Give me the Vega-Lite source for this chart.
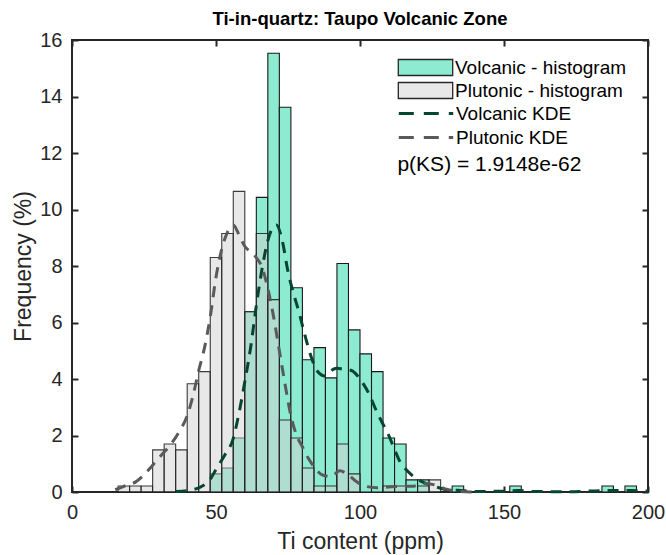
{
  "$schema": "https://vega.github.io/schema/vega-lite/v6.json",
  "width": 576,
  "height": 452,
  "autosize": "none",
  "padding": {"left": 72, "top": 40, "right": 18, "bottom": 63},
  "background": "white",
  "title": {"text": "Ti-in-quartz: Taupo Volcanic Zone", "fontSize": 18.5, "fontWeight": "bold", "font": "Liberation Sans", "color": "#000000", "offset": 2, "anchor": "middle"},
  "config": {
    "view": {"stroke": "#262626", "strokeWidth": 2},
    "font": "Liberation Sans",
    "axis": {"grid": false, "domain": false, "labelFlush": false, "labelOverlap": false, "tickColor": "#262626", "tickWidth": 2, "tickSize": -6, "labelColor": "#262626", "labelFontSize": 20, "titleColor": "#262626", "titleFontSize": 23, "titleFontWeight": "normal", "labelFont": "Liberation Sans", "titleFont": "Liberation Sans"}
  },
  "datasets": {
    "hist": [
      {"series": "Volcanic - histogram", "lo": 48, "hi": 52, "pct": 0.64},
      {"series": "Volcanic - histogram", "lo": 52, "hi": 56, "pct": 0.85},
      {"series": "Volcanic - histogram", "lo": 56, "hi": 60, "pct": 1.91},
      {"series": "Volcanic - histogram", "lo": 60, "hi": 64, "pct": 6.38},
      {"series": "Volcanic - histogram", "lo": 64, "hi": 68, "pct": 10.43},
      {"series": "Volcanic - histogram", "lo": 68, "hi": 72, "pct": 15.53},
      {"series": "Volcanic - histogram", "lo": 72, "hi": 76, "pct": 13.62},
      {"series": "Volcanic - histogram", "lo": 76, "hi": 80, "pct": 7.23},
      {"series": "Volcanic - histogram", "lo": 80, "hi": 84, "pct": 4.68},
      {"series": "Volcanic - histogram", "lo": 84, "hi": 88, "pct": 5.11},
      {"series": "Volcanic - histogram", "lo": 88, "hi": 92, "pct": 4.04},
      {"series": "Volcanic - histogram", "lo": 92, "hi": 96, "pct": 8.09},
      {"series": "Volcanic - histogram", "lo": 96, "hi": 100, "pct": 5.74},
      {"series": "Volcanic - histogram", "lo": 100, "hi": 104, "pct": 4.89},
      {"series": "Volcanic - histogram", "lo": 104, "hi": 108, "pct": 4.26},
      {"series": "Volcanic - histogram", "lo": 108, "hi": 112, "pct": 1.91},
      {"series": "Volcanic - histogram", "lo": 112, "hi": 116, "pct": 1.70},
      {"series": "Volcanic - histogram", "lo": 116, "hi": 120, "pct": 0.43},
      {"series": "Volcanic - histogram", "lo": 120, "hi": 124, "pct": 0.43},
      {"series": "Volcanic - histogram", "lo": 132, "hi": 136, "pct": 0.21},
      {"series": "Volcanic - histogram", "lo": 152, "hi": 156, "pct": 0.21},
      {"series": "Volcanic - histogram", "lo": 184, "hi": 188, "pct": 0.21},
      {"series": "Volcanic - histogram", "lo": 192, "hi": 196, "pct": 0.21},
      {"series": "Plutonic - histogram", "lo": 16, "hi": 20, "pct": 0.21},
      {"series": "Plutonic - histogram", "lo": 20, "hi": 24, "pct": 0.21},
      {"series": "Plutonic - histogram", "lo": 24, "hi": 28, "pct": 0.21},
      {"series": "Plutonic - histogram", "lo": 28, "hi": 32, "pct": 1.49},
      {"series": "Plutonic - histogram", "lo": 32, "hi": 36, "pct": 1.70},
      {"series": "Plutonic - histogram", "lo": 36, "hi": 40, "pct": 1.49},
      {"series": "Plutonic - histogram", "lo": 40, "hi": 44, "pct": 3.83},
      {"series": "Plutonic - histogram", "lo": 44, "hi": 48, "pct": 4.26},
      {"series": "Plutonic - histogram", "lo": 48, "hi": 52, "pct": 8.30},
      {"series": "Plutonic - histogram", "lo": 52, "hi": 56, "pct": 9.15},
      {"series": "Plutonic - histogram", "lo": 56, "hi": 60, "pct": 10.64},
      {"series": "Plutonic - histogram", "lo": 60, "hi": 64, "pct": 6.38},
      {"series": "Plutonic - histogram", "lo": 64, "hi": 68, "pct": 9.15},
      {"series": "Plutonic - histogram", "lo": 68, "hi": 72, "pct": 6.81},
      {"series": "Plutonic - histogram", "lo": 72, "hi": 76, "pct": 2.55},
      {"series": "Plutonic - histogram", "lo": 76, "hi": 80, "pct": 1.91},
      {"series": "Plutonic - histogram", "lo": 80, "hi": 84, "pct": 0.85},
      {"series": "Plutonic - histogram", "lo": 84, "hi": 88, "pct": 0.21},
      {"series": "Plutonic - histogram", "lo": 88, "hi": 92, "pct": 0.21},
      {"series": "Plutonic - histogram", "lo": 92, "hi": 96, "pct": 1.70},
      {"series": "Plutonic - histogram", "lo": 96, "hi": 100, "pct": 0.64},
      {"series": "Plutonic - histogram", "lo": 108, "hi": 112, "pct": 0.21},
      {"series": "Plutonic - histogram", "lo": 112, "hi": 116, "pct": 0.21},
      {"series": "Plutonic - histogram", "lo": 120, "hi": 124, "pct": 0.21},
      {"series": "Plutonic - histogram", "lo": 124, "hi": 128, "pct": 0.43}
    ],
    "kde": [
      {"series": "Volcanic KDE", "x": 36, "y": 0.02},
      {"series": "Volcanic KDE", "x": 40, "y": 0.05},
      {"series": "Volcanic KDE", "x": 44, "y": 0.15},
      {"series": "Volcanic KDE", "x": 48, "y": 0.45},
      {"series": "Volcanic KDE", "x": 50, "y": 0.8},
      {"series": "Volcanic KDE", "x": 53, "y": 1.3},
      {"series": "Volcanic KDE", "x": 56, "y": 1.9},
      {"series": "Volcanic KDE", "x": 58, "y": 2.8},
      {"series": "Volcanic KDE", "x": 60, "y": 3.9},
      {"series": "Volcanic KDE", "x": 62, "y": 5.1},
      {"series": "Volcanic KDE", "x": 64, "y": 6.6},
      {"series": "Volcanic KDE", "x": 66, "y": 7.9},
      {"series": "Volcanic KDE", "x": 68, "y": 8.9},
      {"series": "Volcanic KDE", "x": 70, "y": 9.4},
      {"series": "Volcanic KDE", "x": 71, "y": 9.45},
      {"series": "Volcanic KDE", "x": 73, "y": 8.9},
      {"series": "Volcanic KDE", "x": 75, "y": 7.8},
      {"series": "Volcanic KDE", "x": 77, "y": 7.0},
      {"series": "Volcanic KDE", "x": 79, "y": 6.3},
      {"series": "Volcanic KDE", "x": 81, "y": 5.5},
      {"series": "Volcanic KDE", "x": 83, "y": 4.8},
      {"series": "Volcanic KDE", "x": 85, "y": 4.3},
      {"series": "Volcanic KDE", "x": 88, "y": 4.1},
      {"series": "Volcanic KDE", "x": 90, "y": 4.3},
      {"series": "Volcanic KDE", "x": 92, "y": 4.38},
      {"series": "Volcanic KDE", "x": 94, "y": 4.35},
      {"series": "Volcanic KDE", "x": 97, "y": 4.3},
      {"series": "Volcanic KDE", "x": 100, "y": 4.0},
      {"series": "Volcanic KDE", "x": 103, "y": 3.5},
      {"series": "Volcanic KDE", "x": 106, "y": 2.8},
      {"series": "Volcanic KDE", "x": 108, "y": 2.4},
      {"series": "Volcanic KDE", "x": 110, "y": 2.0},
      {"series": "Volcanic KDE", "x": 112, "y": 1.5},
      {"series": "Volcanic KDE", "x": 114, "y": 1.05},
      {"series": "Volcanic KDE", "x": 116, "y": 0.8},
      {"series": "Volcanic KDE", "x": 118, "y": 0.6},
      {"series": "Volcanic KDE", "x": 120, "y": 0.45},
      {"series": "Volcanic KDE", "x": 123, "y": 0.3},
      {"series": "Volcanic KDE", "x": 126, "y": 0.2},
      {"series": "Volcanic KDE", "x": 130, "y": 0.08},
      {"series": "Volcanic KDE", "x": 134, "y": 0.06},
      {"series": "Volcanic KDE", "x": 140, "y": 0.02},
      {"series": "Volcanic KDE", "x": 150, "y": 0.03},
      {"series": "Volcanic KDE", "x": 155, "y": 0.05},
      {"series": "Volcanic KDE", "x": 160, "y": 0.02},
      {"series": "Volcanic KDE", "x": 172, "y": 0.01},
      {"series": "Volcanic KDE", "x": 186, "y": 0.05},
      {"series": "Volcanic KDE", "x": 194, "y": 0.05},
      {"series": "Volcanic KDE", "x": 200, "y": 0.03},
      {"series": "Plutonic KDE", "x": 15, "y": 0.08},
      {"series": "Plutonic KDE", "x": 18, "y": 0.2},
      {"series": "Plutonic KDE", "x": 22, "y": 0.35},
      {"series": "Plutonic KDE", "x": 25, "y": 0.6},
      {"series": "Plutonic KDE", "x": 28, "y": 0.95},
      {"series": "Plutonic KDE", "x": 31, "y": 1.3},
      {"series": "Plutonic KDE", "x": 34, "y": 1.65},
      {"series": "Plutonic KDE", "x": 37, "y": 2.1},
      {"series": "Plutonic KDE", "x": 40, "y": 2.7},
      {"series": "Plutonic KDE", "x": 42, "y": 3.4},
      {"series": "Plutonic KDE", "x": 44, "y": 4.3},
      {"series": "Plutonic KDE", "x": 46, "y": 5.1},
      {"series": "Plutonic KDE", "x": 48, "y": 6.2},
      {"series": "Plutonic KDE", "x": 50, "y": 7.6},
      {"series": "Plutonic KDE", "x": 52, "y": 8.6},
      {"series": "Plutonic KDE", "x": 54, "y": 9.2},
      {"series": "Plutonic KDE", "x": 56, "y": 9.45},
      {"series": "Plutonic KDE", "x": 58, "y": 9.1},
      {"series": "Plutonic KDE", "x": 60, "y": 8.7},
      {"series": "Plutonic KDE", "x": 62, "y": 8.5},
      {"series": "Plutonic KDE", "x": 64, "y": 8.3},
      {"series": "Plutonic KDE", "x": 66, "y": 7.95},
      {"series": "Plutonic KDE", "x": 68, "y": 7.2},
      {"series": "Plutonic KDE", "x": 70, "y": 6.2},
      {"series": "Plutonic KDE", "x": 72, "y": 5.0},
      {"series": "Plutonic KDE", "x": 74, "y": 3.8},
      {"series": "Plutonic KDE", "x": 76, "y": 2.7},
      {"series": "Plutonic KDE", "x": 78, "y": 2.0},
      {"series": "Plutonic KDE", "x": 80, "y": 1.6},
      {"series": "Plutonic KDE", "x": 82, "y": 1.2},
      {"series": "Plutonic KDE", "x": 84, "y": 0.9},
      {"series": "Plutonic KDE", "x": 87, "y": 0.6},
      {"series": "Plutonic KDE", "x": 90, "y": 0.55},
      {"series": "Plutonic KDE", "x": 93, "y": 0.75},
      {"series": "Plutonic KDE", "x": 96, "y": 0.6},
      {"series": "Plutonic KDE", "x": 99, "y": 0.35},
      {"series": "Plutonic KDE", "x": 102, "y": 0.2},
      {"series": "Plutonic KDE", "x": 106, "y": 0.15},
      {"series": "Plutonic KDE", "x": 110, "y": 0.18},
      {"series": "Plutonic KDE", "x": 114, "y": 0.2},
      {"series": "Plutonic KDE", "x": 118, "y": 0.2},
      {"series": "Plutonic KDE", "x": 122, "y": 0.3},
      {"series": "Plutonic KDE", "x": 126, "y": 0.25},
      {"series": "Plutonic KDE", "x": 130, "y": 0.1},
      {"series": "Plutonic KDE", "x": 135, "y": 0.02},
      {"series": "Plutonic KDE", "x": 140, "y": 0.0}
    ],
    "note": [{"x": 113, "y": 11.57, "text": "p(KS) = 1.9148e-62"}]
  },
  "resolve": {"axis": {"x": "independent", "y": "independent"}},
  "layer": [
    {
      "data": {"name": "hist"},
      "transform": [{"filter": "datum.series === 'Volcanic - histogram'"}],
      "mark": {"type": "rect", "stroke": "#1a1a1a", "strokeWidth": 1.1, "fillOpacity": 1},
      "encoding": {
        "x": {"field": "lo", "type": "quantitative", "scale": {"domain": [0, 200], "nice": false}, "axis": {"orient": "bottom", "values": [0, 50, 100, 150, 200], "title": "Ti content (ppm)", "labelPadding": 16, "titlePadding": 8}},
        "x2": {"field": "hi"},
        "y": {"field": "pct", "type": "quantitative", "scale": {"domain": [0, 16], "nice": false}, "axis": {"orient": "left", "values": [0, 2, 4, 6, 8, 10, 12, 14, 16], "title": "Frequency (%)", "labelPadding": 16, "titlePadding": 4}},
        "y2": {"datum": 0},
        "fill": {"field": "series", "type": "nominal", "scale": {"domain": ["Volcanic - histogram", "Plutonic - histogram"], "range": ["#8CEBD0", "#E8E8E8"]},
          "legend": {"orient": "none", "legendX": 344, "legendY": 18, "title": null, "padding": 0, "symbolType": "M-3.4,-1H3.4V1H-3.4Z", "symbolSize": 256, "symbolStrokeColor": "#262626", "symbolStrokeWidth": 1.2, "symbolOpacity": 1, "labelFontSize": 19, "labelFont": "Liberation Sans", "labelColor": "#000000", "labelOffset": 20, "labelLimit": 400, "rowPadding": 0,
            "encode": {"symbols": {"update": {"stroke": {"value": "#262626"}, "strokeWidth": {"value": 1.3}, "opacity": {"value": 1}, "fillOpacity": {"value": 1}}}}}}
      }
    },
    {
      "data": {"name": "hist"},
      "transform": [{"filter": "datum.series === 'Plutonic - histogram'"}],
      "mark": {"type": "rect", "fill": "#D1D1D1", "stroke": "#1a1a1a", "strokeWidth": 1.1, "strokeOpacity": 0.85, "fillOpacity": 0.5},
      "encoding": {
        "x": {"field": "lo", "type": "quantitative", "axis": null},
        "x2": {"field": "hi"},
        "y": {"field": "pct", "type": "quantitative", "axis": null},
        "y2": {"datum": 0}
      }
    },
    {
      "data": {"name": "kde"},
      "mark": {"type": "line", "strokeWidth": 3, "strokeDash": [11, 8], "interpolate": "monotone"},
      "encoding": {
        "x": {"field": "x", "type": "quantitative", "axis": null},
        "y": {"field": "y", "type": "quantitative", "axis": null},
        "stroke": {"field": "series", "type": "nominal", "scale": {"domain": ["Volcanic KDE", "Plutonic KDE"], "range": ["#06452F", "#5A5A5A"]},
          "legend": {"orient": "none", "legendX": 344, "legendY": 63.5, "title": null, "padding": 0, "symbolType": "M-3.4,0H3.4", "symbolSize": 256, "symbolStrokeWidth": 3.2, "symbolDash": [15, 10], "labelFontSize": 19, "labelFont": "Liberation Sans", "labelColor": "#000000", "labelOffset": 20, "labelLimit": 400, "rowPadding": 4}}
      }
    },
    {
      "data": {"name": "note"},
      "mark": {"type": "text", "align": "left", "baseline": "middle", "fontSize": 21, "font": "Liberation Sans", "color": "#000000"},
      "encoding": {
        "x": {"field": "x", "type": "quantitative", "axis": {"orient": "top", "values": [0, 50, 100, 150, 200], "labels": false, "title": null}},
        "y": {"field": "y", "type": "quantitative", "axis": {"orient": "right", "values": [0, 2, 4, 6, 8, 10, 12, 14, 16], "labels": false, "title": null}},
        "text": {"field": "text"}
      }
    }
  ]
}
